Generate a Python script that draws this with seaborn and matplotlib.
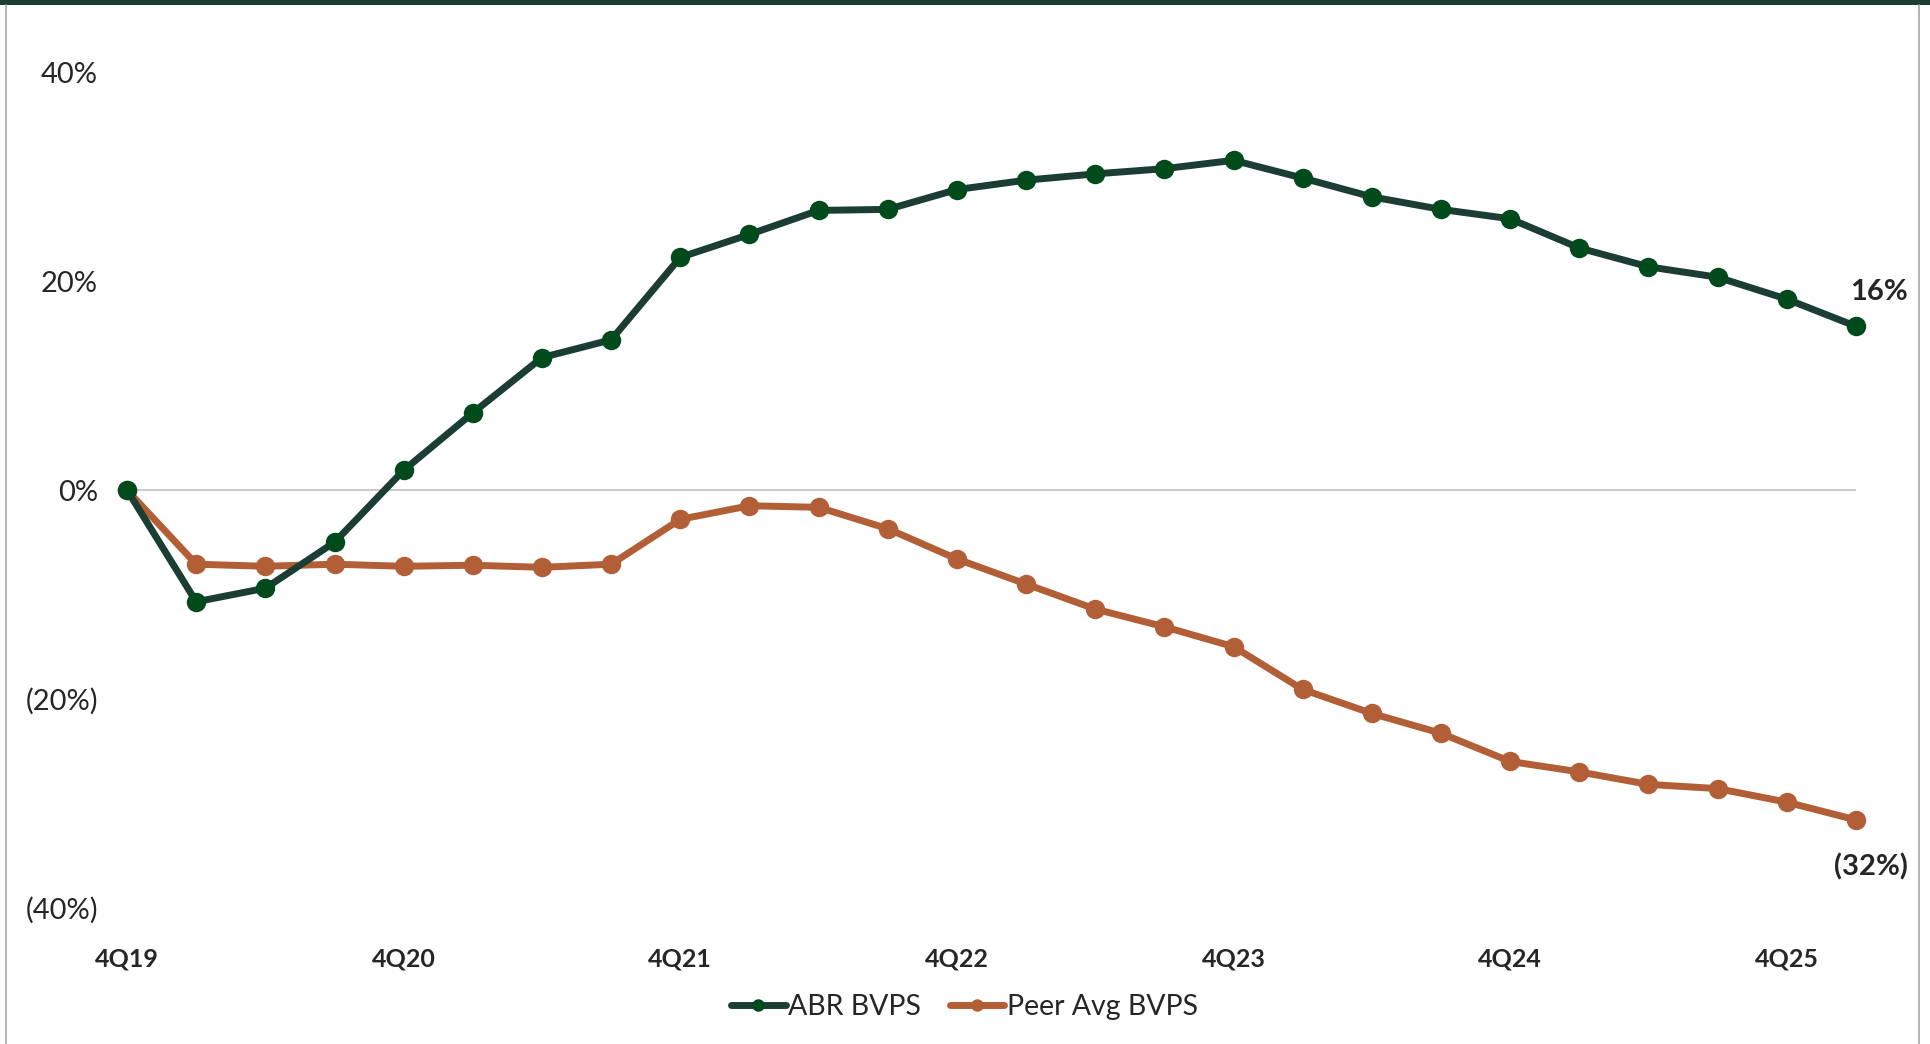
import matplotlib
matplotlib.use("Agg")
import matplotlib.pyplot as plt
from matplotlib.lines import Line2D
from matplotlib.patches import Rectangle
import seaborn as sns
import pandas as pd

# Quarterly cumulative change in book value per share since 4Q19 (%)
quarters = ["4Q19", "1Q20", "2Q20", "3Q20", "4Q20", "1Q21", "2Q21", "3Q21",
            "4Q21", "1Q22", "2Q22", "3Q22", "4Q22", "1Q23", "2Q23", "3Q23",
            "4Q23", "1Q24", "2Q24", "3Q24", "4Q24", "1Q25", "2Q25", "3Q25",
            "4Q25", "1Q26"]
abr_bvps = [0.0, -10.7, -9.4, -5.0, 1.9, 7.4, 12.7, 14.4,
            22.3, 24.5, 26.8, 26.9, 28.8, 29.7, 30.3, 30.8,
            31.6, 29.9, 28.1, 26.9, 26.0, 23.2, 21.4, 20.4,
            18.3, 15.7]
peer_bvps = [0.0, -7.1, -7.3, -7.1, -7.3, -7.2, -7.4, -7.1,
             -2.8, -1.5, -1.65, -3.7, -6.6, -9.0, -11.4, -13.1,
             -15.0, -19.1, -21.4, -23.3, -26.0, -27.0, -28.2, -28.6,
             -29.9, -31.6]
series_names = ["ABR BVPS", "Peer Avg BVPS"]
end_labels = ["16%", "(32%)"]
x_tick_labels = ["4Q19", "4Q20", "4Q21", "4Q22", "4Q23", "4Q24", "4Q25"]
y_ticks = [40, 20, 0, -20, -40]
y_tick_labels = ["40%", "20%", "0%", "(20%)", "(40%)"]

GREEN_LINE = "#1C3D34"
GREEN_MARK = "#014A1B"
COPPER = "#B25E37"

sns.set_theme(style="white")
plt.rcParams["font.family"] = ["Lato", "DejaVu Sans"]

df = pd.DataFrame({
    "idx": list(range(len(quarters))) * 2,
    "value": abr_bvps + peer_bvps,
    "series": [series_names[0]] * len(quarters) + [series_names[1]] * len(quarters),
})

fig = plt.figure(figsize=(19.31, 10.44), dpi=100)
ax = fig.add_axes([0.0658, 0.1307, 0.8953, 0.7997])

# zero reference line spanning the data range
ax.plot([0, len(quarters) - 1], [0, 0], color="#C9C9C9", lw=1.4, zorder=1)

sns.lineplot(data=df[df.series == series_names[1]], x="idx", y="value",
             color=COPPER, lw=5, marker="o", markersize=14,
             markeredgewidth=0, markerfacecolor=COPPER, ax=ax, zorder=3,
             clip_on=False)
sns.lineplot(data=df[df.series == series_names[0]], x="idx", y="value",
             color=GREEN_LINE, lw=5, marker="o", markersize=14,
             markeredgewidth=0, markerfacecolor=GREEN_MARK, ax=ax, zorder=4,
             clip_on=False)

ax.set_xlim(0, len(quarters) - 1)
ax.set_ylim(-40, 40)
ax.set_xticks(range(0, len(quarters), 4))
ax.set_xticklabels(x_tick_labels, fontsize=18, fontweight="bold")
ax.set_yticks(y_ticks)
ax.set_yticklabels(y_tick_labels, fontsize=21)
ax.tick_params(axis="x", length=0, pad=29)
ax.tick_params(axis="y", length=0, pad=21)
ax.set_xlabel("")
ax.set_ylabel("")
for s in ax.spines.values():
    s.set_visible(False)
ax.grid(False)
if ax.get_legend() is not None:
    ax.get_legend().remove()

# end-of-series value labels
last = len(quarters) - 1
ax.annotate(end_labels[0], (last, abr_bvps[-1]), xytext=(17, 25),
            textcoords="offset points", ha="center", va="center",
            fontsize=21, fontweight="bold", annotation_clip=False)
ax.annotate(end_labels[1], (last, peer_bvps[-1]), xytext=(11, -34),
            textcoords="offset points", ha="center", va="center",
            fontsize=21, fontweight="bold", annotation_clip=False)

handles = [
    Line2D([], [], color=GREEN_LINE, lw=5, marker="o", markersize=9,
           markeredgewidth=0, markerfacecolor=GREEN_MARK),
    Line2D([], [], color=COPPER, lw=5, marker="o", markersize=9,
           markeredgewidth=0, markerfacecolor=COPPER),
]
fig.legend(handles, series_names, loc="center", bbox_to_anchor=(0.4995, 0.0355),
           ncol=2, frameon=False, fontsize=20.5, handlelength=1.9,
           handletextpad=0.1, columnspacing=1.0)

# frame: dark band on top, thin grey sides
fig.add_artist(Rectangle((0, 1 - 5 / 1044), 1, 5 / 1044, transform=fig.transFigure,
                         color=GREEN_LINE, lw=0))
fig.add_artist(Line2D([6 / 1931, 6 / 1931], [0, 1 - 5 / 1044],
                      transform=fig.transFigure, color="#A6A6A6", lw=1.2))
fig.add_artist(Line2D([1919 / 1931, 1919 / 1931], [0, 1 - 5 / 1044],
                      transform=fig.transFigure, color="#A6A6A6", lw=1.2))

fig.savefig("out.png", dpi=100)
